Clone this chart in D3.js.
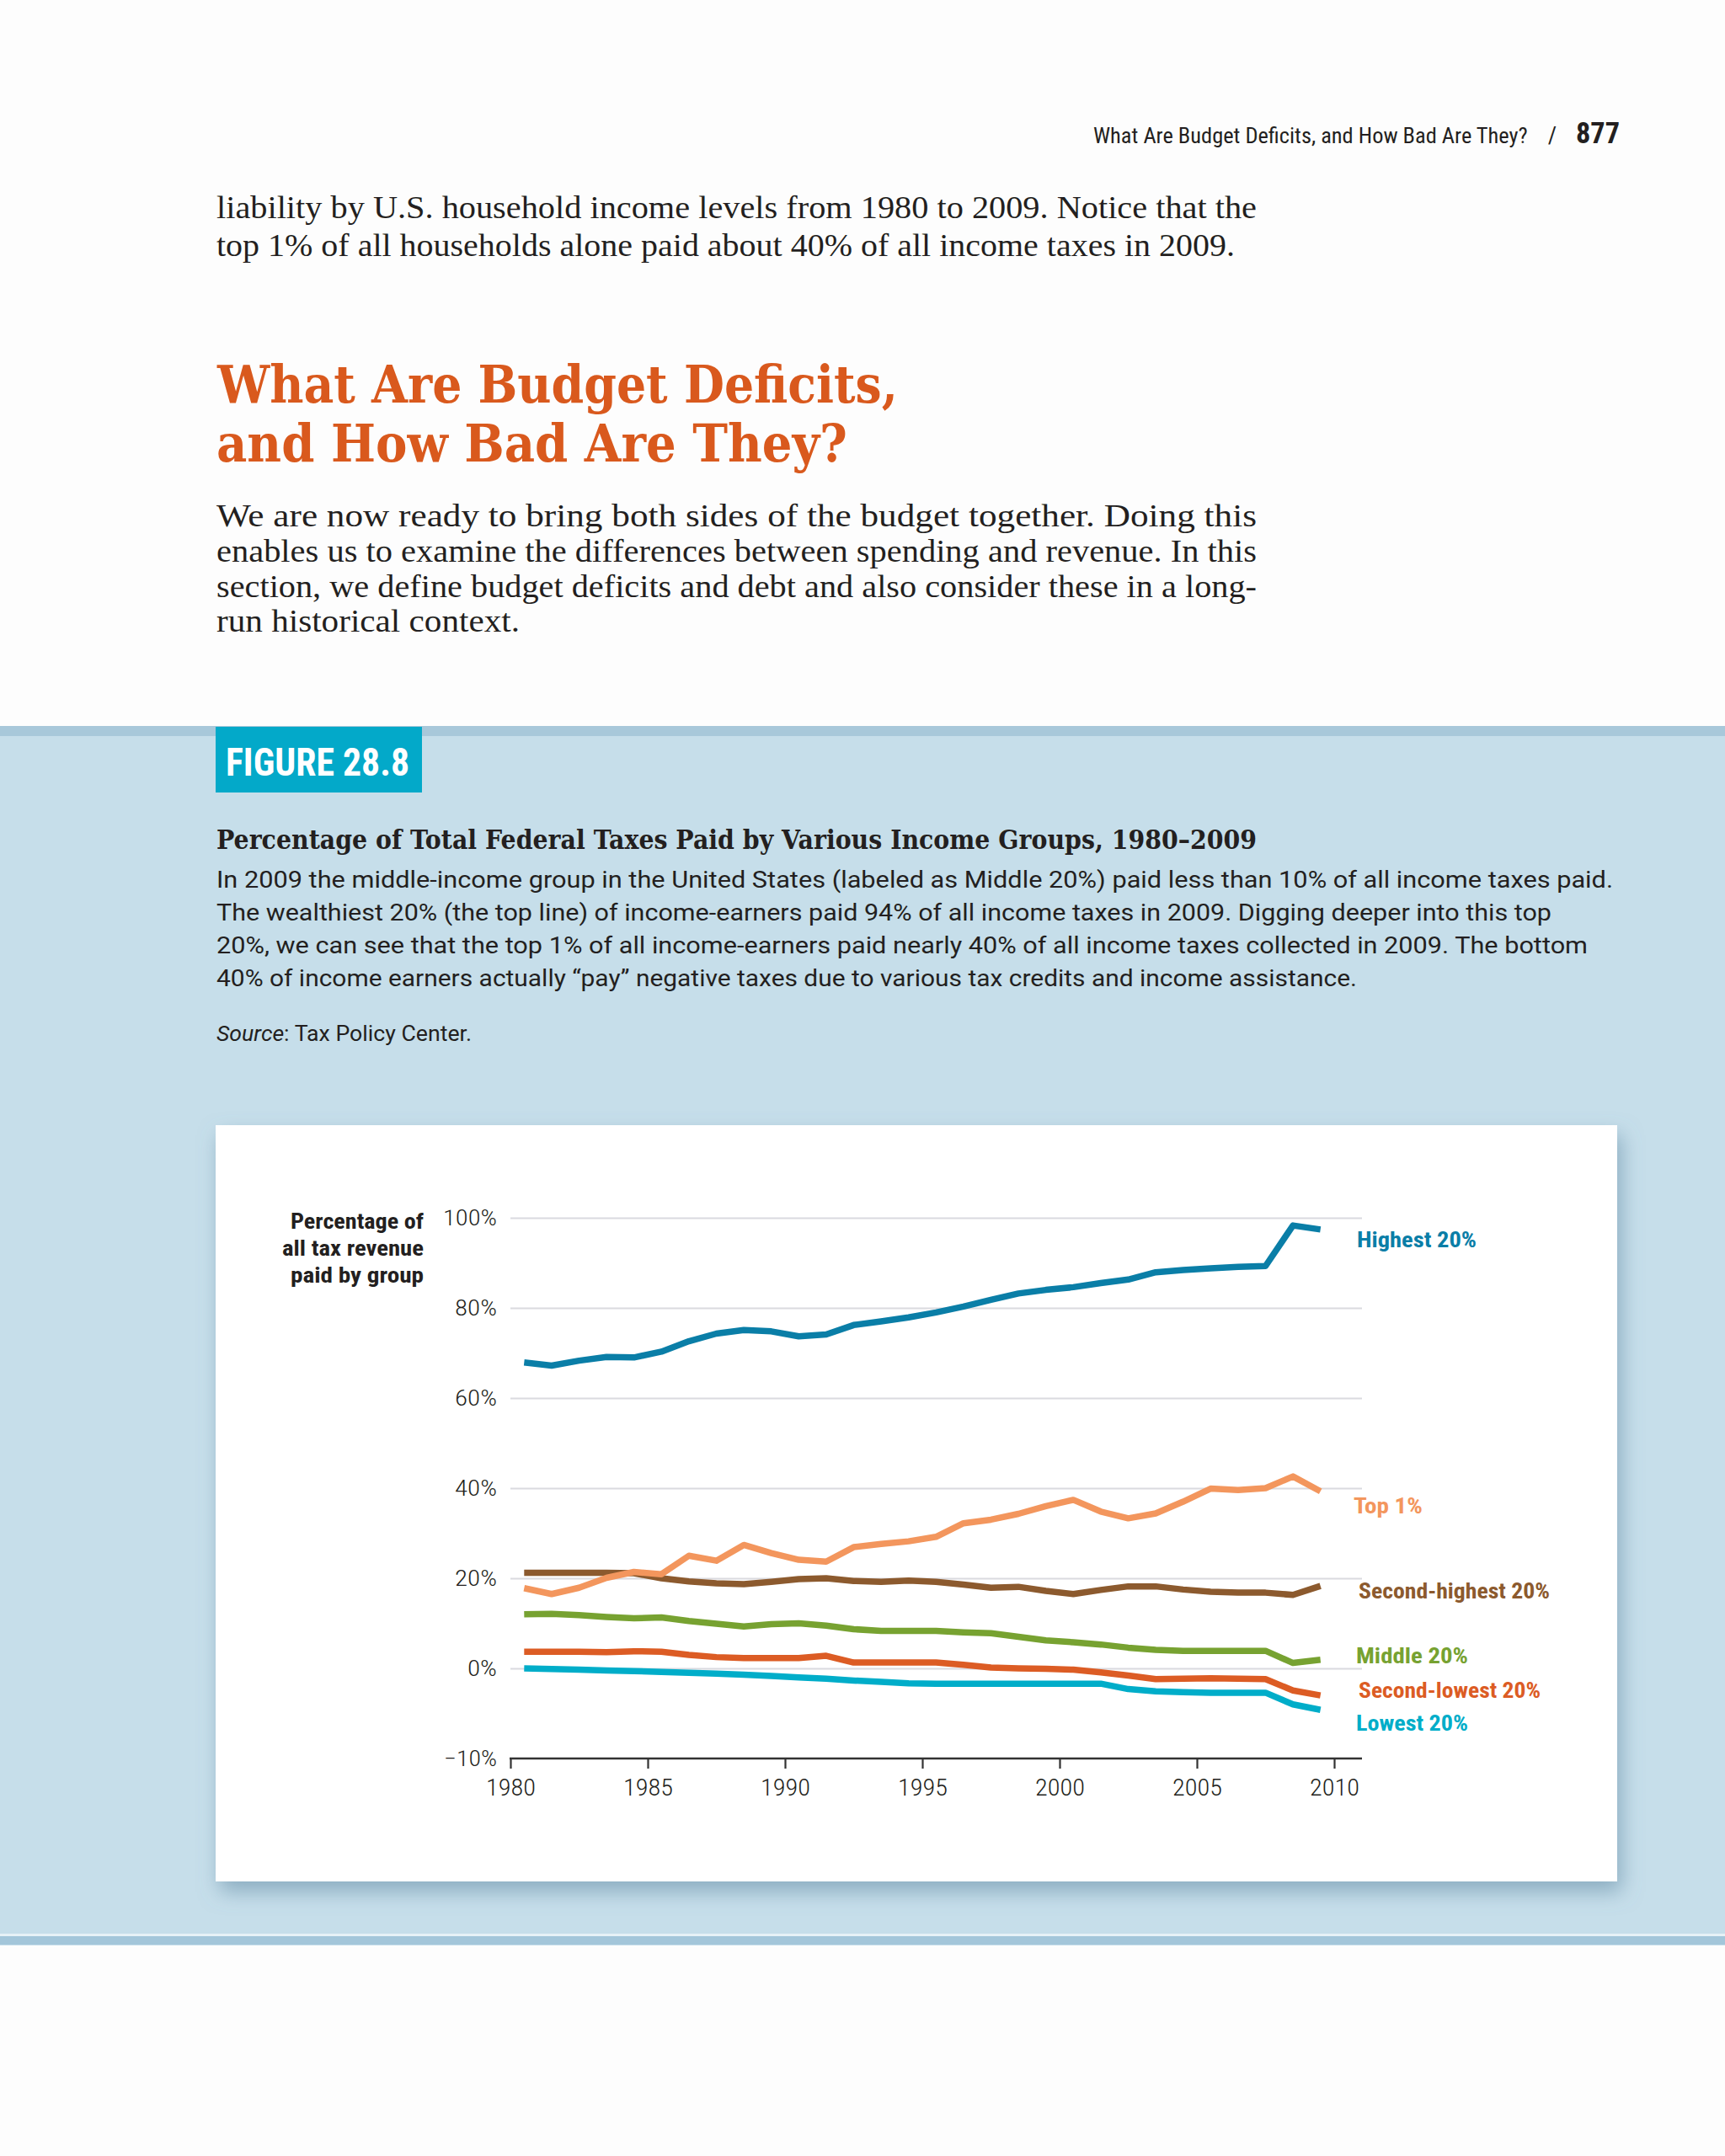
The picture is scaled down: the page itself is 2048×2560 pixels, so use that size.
<!DOCTYPE html>
<html>
<head>
<meta charset="utf-8">
<script src="https://cdn.jsdelivr.net/npm/d3@7"></script>
<style>
  html, body { margin: 0; padding: 0; background: #fdfdfd; }
  svg { display: block; }
</style>
</head>
<body>
<svg id="page"></svg>
<script>
// ---------------- DATA ----------------
const years = [1980, 1981, 1982, 1983, 1984, 1985, 1986, 1987, 1988, 1989,
               1990, 1991, 1992, 1993, 1994, 1995, 1996, 1997, 1998, 1999,
               2000, 2001, 2002, 2003, 2004, 2005, 2006, 2007, 2008, 2009];

const highest20 = [67.9, 67.2, 68.3, 69.1, 69.0, 70.3, 72.6, 74.3, 75.1, 74.8,
                   73.7, 74.1, 76.2, 77.0, 77.9, 79.0, 80.3, 81.8, 83.2, 84.0,
                   84.6, 85.5, 86.3, 87.9, 88.4, 88.8, 89.1, 89.3, 98.3, 97.4];
const top1 = [17.8, 16.5, 17.9, 20.1, 21.4, 20.9, 25.0, 23.9, 27.4, 25.6,
              24.1, 23.7, 26.9, 27.6, 28.2, 29.2, 32.2, 33.0, 34.3, 36.0,
              37.4, 34.8, 33.3, 34.4, 37.0, 39.9, 39.6, 40.0, 42.6, 39.3];
const secondHighest20 = [21.2, 21.2, 21.2, 21.2, 21.1, 20.0, 19.3, 18.9, 18.7, 19.2,
                         19.8, 20.0, 19.4, 19.2, 19.5, 19.2, 18.6, 17.9, 18.1, 17.2,
                         16.5, 17.4, 18.2, 18.2, 17.5, 17.0, 16.8, 16.8, 16.3, 18.3];
const middle20 = [12.0, 12.1, 11.8, 11.4, 11.1, 11.3, 10.5, 9.9, 9.3, 9.8,
                  10.0, 9.5, 8.7, 8.3, 8.3, 8.3, 8.0, 7.8, 7.0, 6.2,
                  5.8, 5.3, 4.6, 4.1, 3.9, 3.9, 3.9, 3.9, 1.2, 1.9];
const secondLowest20 = [3.7, 3.7, 3.7, 3.6, 3.8, 3.7, 3.0, 2.5, 2.3, 2.3,
                        2.3, 2.8, 1.3, 1.3, 1.3, 1.3, 0.8, 0.2, 0.0, -0.1,
                        -0.3, -0.9, -1.6, -2.4, -2.3, -2.2, -2.3, -2.4, -4.9, -6.0];
const lowest20 = [0.0, -0.15, -0.3, -0.45, -0.6, -0.8, -1.0, -1.15, -1.4, -1.7,
                  -2.0, -2.3, -2.7, -3.0, -3.3, -3.4, -3.4, -3.4, -3.4, -3.4,
                  -3.4, -3.4, -4.6, -5.1, -5.3, -5.4, -5.4, -5.4, -8.0, -9.2];

const seriesNames = ["Lowest 20%", "Second-lowest 20%", "Middle 20%",
                     "Second-highest 20%", "Top 1%", "Highest 20%"];
const seriesColors = ["#00adc9", "#dc5c24", "#77a231", "#8c5a2e", "#f3965d", "#0a7ea7"];
const seriesValues = [lowest20, secondLowest20, middle20, secondHighest20, top1, highest20];

const xTickValues = [1980, 1985, 1990, 1995, 2000, 2005, 2010];
const yTickValues = [-20, 0, 20, 40, 60, 80, 100];
const yTickLabels = ["\u221210%", "0%", "20%", "40%", "60%", "80%", "100%"];
const gridValues = [0, 20, 40, 60, 80, 100];

// ---------------- PAGE ----------------
const W = 2048, H = 2560;
const INK = "#231f20";
const SERIF = "'Liberation Serif','DejaVu Serif',serif";
const SLAB = "'DejaVu Serif',serif";
const COND = "'Roboto Condensed','Liberation Sans Narrow','DejaVu Sans Condensed','Roboto',sans-serif";
const SANS = "'Roboto','Liberation Sans',sans-serif";

const svg = d3.select("#page").attr("width", W).attr("height", H)
  .attr("viewBox", `0 0 ${W} ${H}`);

const defs = svg.append("defs");
const flt = defs.append("filter").attr("id", "shadow")
  .attr("x", "-3%").attr("y", "-5%").attr("width", "108%").attr("height", "118%");
flt.append("feDropShadow").attr("dx", 5).attr("dy", 12).attr("stdDeviation", 12)
  .attr("flood-color", "#5d86a0").attr("flood-opacity", 0.55);

svg.append("rect").attr("width", W).attr("height", H).attr("fill", "#fdfdfd");

function txt(g, o) {
  const t = g.append("text")
    .attr("x", o.x).attr("y", o.y)
    .attr("font-family", o.family).attr("font-size", o.size)
    .attr("font-weight", o.weight || 400)
    .attr("fill", o.fill || INK)
    .attr("text-anchor", o.anchor || "start");
  if (o.stretch) t.style("font-stretch", o.stretch);
  if (o.italic) t.attr("font-style", "italic");
  if (o.parts) {
    o.parts.forEach(p => t.append("tspan").attr("font-style", p.italic ? "italic" : null).text(p.text));
  } else {
    t.text(o.text);
  }
  if (o.fitSize) {
    // scale font size so the natural width equals the target width
    const n = t.node().getComputedTextLength();
    if (n > 0) t.attr("font-size", o.size * o.fitSize / n);
  } else if (o.width) {
    t.attr("textLength", o.width).attr("lengthAdjust", "spacingAndGlyphs");
  }
  return t;
}

// running header
const hdr = svg.append("g");
txt(hdr, { x: 1298, y: 170, size: 28, family: COND, stretch: "condensed", fitSize: 516,
  text: "What Are Budget Deficits, and How Bad Are They?" });
txt(hdr, { x: 1843, y: 170, size: 28, family: COND, anchor: "middle", text: "/" });
txt(hdr, { x: 1871, y: 170, size: 30, family: COND, weight: 700, fitSize: 52, text: "877" });

// opening paragraph tail
const body = svg.append("g");
txt(body, { x: 257, y: 259, size: 37, family: SERIF, width: 1235,
  text: "liability by U.S. household income levels from 1980 to 2009. Notice that the" });
txt(body, { x: 257, y: 304, size: 37, family: SERIF, width: 1209,
  text: "top 1% of all households alone paid about 40% of all income taxes in 2009." });

// heading
txt(body, { x: 258, y: 478, size: 62, family: SLAB, weight: 700, stretch: "condensed",
  fill: "#d9591d", width: 808, text: "What Are Budget Deficits," });
txt(body, { x: 257, y: 548, size: 62, family: SLAB, weight: 700, stretch: "condensed",
  fill: "#d9591d", width: 749, text: "and How Bad Are They?" });

const paraLines = [
  "We are now ready to bring both sides of the budget together. Doing this",
  "enables us to examine the differences between spending and revenue. In this",
  "section, we define budget deficits and debt and also consider these in a long-",
  "run historical context."
];
const paraY = [625, 667, 709, 750];
const paraW = [1235, 1235, 1235, 360];
paraLines.forEach((l, i) => txt(body, { x: 257, y: paraY[i], size: 37, family: SERIF,
  width: paraW[i], text: l }));

// ---------------- FIGURE BAND ----------------
svg.append("rect").attr("x", 0).attr("y", 862).attr("width", W).attr("height", 1448).attr("fill", "#c6deea");
svg.append("rect").attr("x", 0).attr("y", 862).attr("width", W).attr("height", 12).attr("fill", "#a8c8da");
svg.append("rect").attr("x", 0).attr("y", 2296).attr("width", W).attr("height", 3).attr("fill", "#e6f1f6");
svg.append("rect").attr("x", 0).attr("y", 2299).attr("width", W).attr("height", 10).attr("fill", "#a3c6da");

// FIGURE tag
svg.append("rect").attr("x", 256).attr("y", 863).attr("width", 245).attr("height", 78).attr("fill", "#03a9c9");
txt(svg, { x: 268, y: 921, size: 47, family: COND, weight: 700, stretch: "condensed",
  fill: "#ffffff", width: 218, text: "FIGURE 28.8" });

// caption
const cap = svg.append("g");
txt(cap, { x: 257, y: 1008, size: 31, family: SLAB, weight: 700, width: 1235,
  text: "Percentage of Total Federal Taxes Paid by Various Income Groups, 1980\u20132009" });
const capLines = [
  "In 2009 the middle-income group in the United States (labeled as Middle 20%) paid less than 10% of all income taxes paid.",
  "The wealthiest 20% (the top line) of income-earners paid 94% of all income taxes in 2009. Digging deeper into this top",
  "20%, we can see that the top 1% of all income-earners paid nearly 40% of all income taxes collected in 2009. The bottom",
  "40% of income earners actually \u201cpay\u201d negative taxes due to various tax credits and income assistance."
];
const capY = [1054, 1093, 1132, 1171];
const capW = [1658, 1585, 1628, 1354];
capLines.forEach((l, i) => txt(cap, { x: 257, y: capY[i], size: 27, family: SANS,
  width: capW[i], text: l }));
txt(cap, { x: 257, y: 1236, size: 25, family: SANS, width: 303,
  parts: [{ text: "Source", italic: true }, { text: ": Tax Policy Center." }] });

// white chart panel
svg.append("rect").attr("x", 256).attr("y", 1336).attr("width", 1664).attr("height", 898)
  .attr("fill", "#ffffff").attr("filter", "url(#shadow)");

// ---------------- CHART ----------------
const x = d3.scaleLinear().domain([1980, 2010]).range([606, 1584]);
const y = d3.scaleLinear().domain([-20, 100]).range([2088, 1446]);
const gridRight = 1617;

const chart = svg.append("g");

// gridlines
const grid = chart.append("g").attr("transform", `translate(${x(1980)},0)`)
  .call(d3.axisLeft(y).tickValues(gridValues).tickSize(-(gridRight - x(1980))).tickFormat(""));
grid.select(".domain").remove();
grid.selectAll("line").attr("stroke", "#dadadf").attr("stroke-width", 2.2);

// y tick labels
const yLabelW = { "\u221210%": 63, "0%": 35, "20%": 50, "40%": 50, "60%": 50, "80%": 50, "100%": 64 };
const yAx = chart.append("g").attr("transform", `translate(${x(1980)},0)`)
  .call(d3.axisLeft(y).tickValues(yTickValues).tickSize(0).tickPadding(16)
    .tickFormat(d => yTickLabels[yTickValues.indexOf(d)]));
yAx.select(".domain").remove();
yAx.selectAll("text").attr("font-family", COND).style("font-stretch", "condensed")
  .attr("font-size", 26).attr("fill", INK).attr("font-weight", 300)
  .attr("textLength", function () { return yLabelW[this.textContent]; })
  .attr("lengthAdjust", "spacingAndGlyphs");

// x axis
const xAx = chart.append("g").attr("transform", `translate(0,${y(-20)})`)
  .call(d3.axisBottom(x).tickValues(xTickValues).tickSize(12).tickFormat(d3.format("d")));
xAx.select(".domain").remove();
xAx.selectAll("line").attr("stroke", "#333333").attr("stroke-width", 2.2);
xAx.selectAll("text").attr("y", 35).attr("dy", "0.35em")
  .attr("font-family", COND).style("font-stretch", "condensed")
  .attr("font-size", 27).attr("fill", INK).attr("font-weight", 300)
  .attr("textLength", 59).attr("lengthAdjust", "spacingAndGlyphs");
chart.append("line").attr("x1", x(1980) - 1).attr("x2", gridRight)
  .attr("y1", y(-20)).attr("y2", y(-20)).attr("stroke", "#333333").attr("stroke-width", 2.5);

// y axis title
const yt = chart.append("g");
["Percentage of", "all tax revenue", "paid by group"].forEach((l, i) => {
  txt(yt, { x: 503, y: [1459, 1491, 1523][i], size: 26, family: COND, weight: 700,
    stretch: "condensed", anchor: "end", width: [158, 168, 158][i], text: l });
});

// lines
const line = d3.line()
  .x(d => x(d.year + 0.5))
  .y(d => y(d.value))
  .curve(d3.curveLinear);

seriesValues.forEach((vals, i) => {
  const pts = years.map((yr, j) => ({ year: yr, value: vals[j] }));
  chart.append("path").datum(pts)
    .attr("d", line)
    .attr("fill", "none")
    .attr("stroke", seriesColors[i])
    .attr("stroke-width", 7.5)
    .attr("stroke-linejoin", "round");
});

// series labels
const labelPos = {
  "Highest 20%":        { x: 1611, y: 1481, w: 142 },
  "Top 1%":             { x: 1607, y: 1797, w: 82 },
  "Second-highest 20%": { x: 1613, y: 1898, w: 227 },
  "Middle 20%":         { x: 1610, y: 1975, w: 133 },
  "Second-lowest 20%":  { x: 1613, y: 2016, w: 216 },
  "Lowest 20%":         { x: 1610, y: 2055, w: 133 }
};
seriesNames.forEach((name, i) => {
  const p = labelPos[name];
  txt(chart, { x: p.x, y: p.y, size: 26, family: COND, weight: 700, stretch: "condensed",
    fill: seriesColors[i], width: p.w, text: name });
});
</script>
</body>
</html>
